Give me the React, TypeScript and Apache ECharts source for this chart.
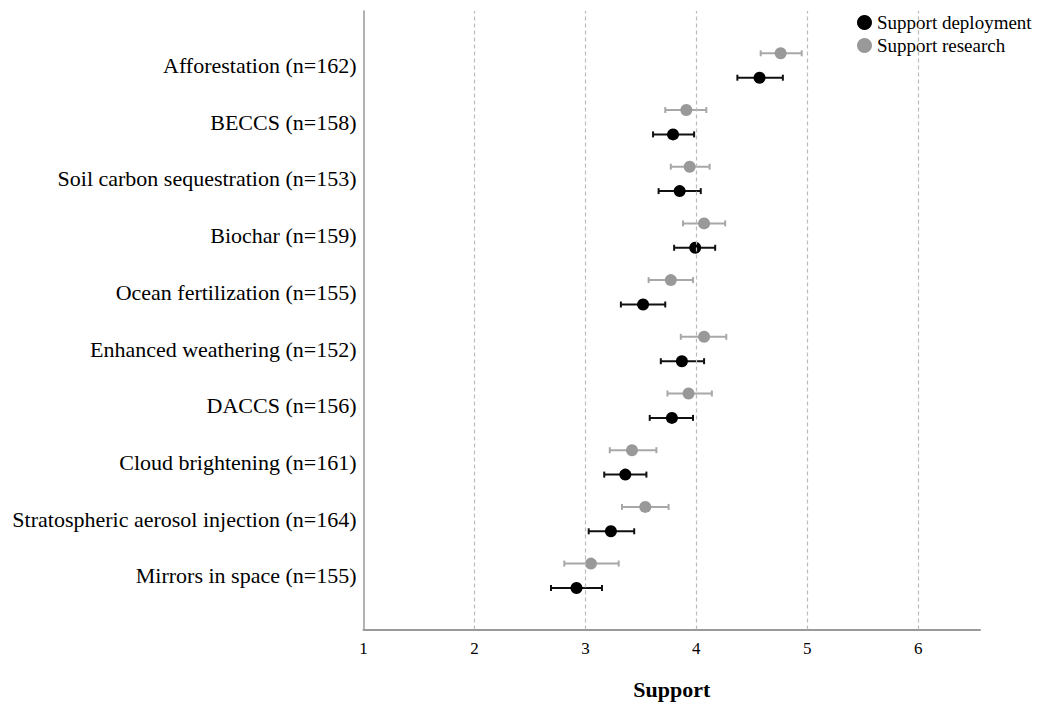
import React, { useEffect, useRef } from "react";
import * as echarts from "echarts";

const categories = [
  "Afforestation (n=162)",
  "BECCS (n=158)",
  "Soil carbon sequestration (n=153)",
  "Biochar (n=159)",
  "Ocean fertilization (n=155)",
  "Enhanced weathering (n=152)",
  "DACCS (n=156)",
  "Cloud brightening (n=161)",
  "Stratospheric aerosol injection (n=164)",
  "Mirrors in space (n=155)",
];

const researchMean = [4.76, 3.91, 3.94, 4.07, 3.77, 4.07, 3.93, 3.42, 3.54, 3.05];
const researchLow = [4.58, 3.72, 3.77, 3.88, 3.57, 3.86, 3.74, 3.22, 3.33, 2.81];
const researchHigh = [4.95, 4.09, 4.12, 4.26, 3.97, 4.27, 4.14, 3.64, 3.75, 3.3];

const deploymentMean = [4.57, 3.79, 3.85, 3.99, 3.52, 3.87, 3.78, 3.36, 3.23, 2.92];
const deploymentLow = [4.37, 3.61, 3.66, 3.8, 3.32, 3.68, 3.58, 3.17, 3.03, 2.69];
const deploymentHigh = [4.78, 3.98, 4.04, 4.17, 3.72, 4.07, 3.97, 3.55, 3.44, 3.15];

const gridLineValues = [2, 3, 4, 5, 6];
const xTicks = { min: 1, max: 6.557, interval: 1 };

const FONT = "Liberation Serif";

function errorBarSeries(name: string, low: number[], high: number[], offset: number, color: string) {
  return {
    type: "custom",
    name,
    xAxisIndex: 1,
    yAxisIndex: 1,
    silent: true,
    encode: { x: [0, 1], y: 2 },
    data: low.map((l, i) => [l, high[i], i]),
    renderItem: (params: any, api: any) => {
      const a = api.coord([api.value(0), api.value(2)]);
      const b = api.coord([api.value(1), api.value(2)]);
      const y = a[1] + offset;
      const cap = 3;
      const style = { stroke: color, lineWidth: 2, fill: "none" };
      return {
        type: "group",
        children: [
          { type: "line", shape: { x1: a[0], y1: y, x2: b[0], y2: y }, style },
          { type: "line", shape: { x1: a[0], y1: y - cap, x2: a[0], y2: y + cap }, style },
          { type: "line", shape: { x1: b[0], y1: y - cap, x2: b[0], y2: y + cap }, style },
        ],
      };
    },
    z: 2,
  };
}

export default function App() {
  const ref = useRef<HTMLDivElement>(null);
  useEffect(() => {
    if (!ref.current) return;
    const chart = echarts.init(ref.current, undefined, { renderer: "svg" });
    const option: any = {
      animation: false,
      backgroundColor: "#ffffff",
      textStyle: { fontFamily: FONT },
      legend: {
        orient: "vertical",
        left: 852,
        top: 8,
        itemWidth: 15,
        itemHeight: 15,
        itemGap: 4,
        itemTextGap: 7,
        icon: "circle",
        data: ["Support deployment", "Support research"],
        textStyle: { fontFamily: FONT, fontSize: 19, color: "#000" },
      },
      grid: [
        { left: 363.5, right: 57, top: 11, height: 618.5 },
        { left: 363.5, right: 57, top: 37.15, height: 567 },
      ],
      xAxis: [
        {
          gridIndex: 0,
          type: "value",
          min: xTicks.min,
          max: xTicks.max,
          interval: xTicks.interval,
          axisLine: { show: true, onZero: false, lineStyle: { color: "#999", width: 2 } },
          axisTick: { show: false },
          splitLine: { show: false },
          axisLabel: {
            showMaxLabel: false,
            margin: 10,
            fontFamily: FONT,
            fontSize: 17,
            color: "#000",
          },
          name: "Support",
          nameLocation: "middle",
          nameGap: 49,
          nameTextStyle: { fontFamily: FONT, fontSize: 22, fontWeight: "bold", color: "#000" },
        },
        {
          gridIndex: 1,
          type: "value",
          min: xTicks.min,
          max: xTicks.max,
          show: false,
        },
      ],
      yAxis: [
        {
          gridIndex: 0,
          type: "value",
          min: 0,
          max: 1,
          axisLine: { show: true, onZero: false, lineStyle: { color: "#999", width: 1.5 } },
          axisTick: { show: false },
          axisLabel: { show: false },
          splitLine: { show: false },
        },
        {
          gridIndex: 1,
          type: "category",
          data: categories,
          inverse: true,
          axisLine: { show: false },
          axisTick: { show: false },
          splitLine: { show: false },
          axisLabel: { margin: 7, fontFamily: FONT, fontSize: 22, color: "#000" },
        },
      ],
      series: [
        {
          type: "scatter",
          name: "grid",
          xAxisIndex: 0,
          yAxisIndex: 0,
          data: [],
          silent: true,
          markLine: {
            silent: true,
            symbol: ["none", "none"],
            label: { show: false },
            lineStyle: { type: [4, 3], color: "#bbbbbb", width: 1.2 },
            data: gridLineValues.map((v) => ({ xAxis: v })),
          },
        },
        errorBarSeries("researchErr", researchLow, researchHigh, -12.2, "#a8a8a8"),
        errorBarSeries("deploymentErr", deploymentLow, deploymentHigh, 12.2, "#111111"),
        {
          type: "scatter",
          name: "Support research",
          xAxisIndex: 1,
          yAxisIndex: 1,
          symbol: "circle",
          symbolSize: 12,
          symbolOffset: [0, -12.2],
          itemStyle: { color: "#999999", opacity: 1 },
          data: researchMean.map((v, i) => [v, i]),
          z: 3,
        },
        {
          type: "scatter",
          name: "Support deployment",
          xAxisIndex: 1,
          yAxisIndex: 1,
          symbol: "circle",
          symbolSize: 12,
          symbolOffset: [0, 12.2],
          itemStyle: { color: "#000000", opacity: 1 },
          data: deploymentMean.map((v, i) => [v, i]),
          z: 3,
        },
      ],
    };
    chart.setOption(option);
    return () => chart.dispose();
  }, []);
  return (
    <div
      ref={ref}
      style={{ position: "fixed", left: 0, top: 0, width: 1037, height: 706, background: "#fff" }}
    />
  );
}
